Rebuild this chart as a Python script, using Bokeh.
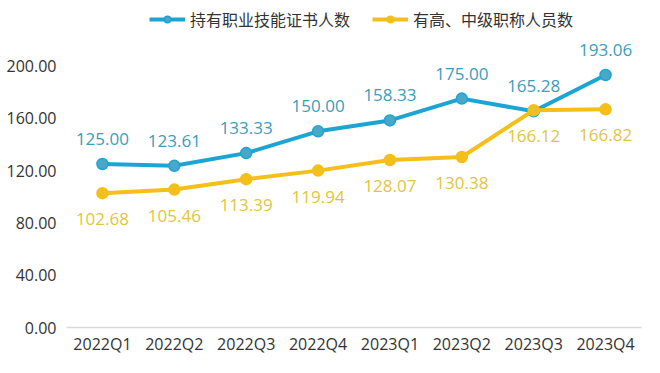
from bokeh.plotting import figure
from bokeh.models import FactorRange, Range1d, Legend, LegendItem, ColumnDataSource, NumeralTickFormatter
from bokeh.core.properties import value
from bokeh.embed import file_html
from bokeh.resources import INLINE

categories = ["2022Q1", "2022Q2", "2022Q3", "2022Q4", "2023Q1", "2023Q2", "2023Q3", "2023Q4"]
cert_holders = [125.00, 123.61, 133.33, 150.00, 158.33, 175.00, 165.28, 193.06]
titled_staff = [102.68, 105.46, 113.39, 119.94, 128.07, 130.38, 166.12, 166.82]
series_names = ["持有职业技能证书人数", "有高、中级职称人员数"]
y_ticks = [0, 40, 80, 120, 160, 200]

blue = "#1CA5D3"
blue_fill = "#4AA7C7"
blue_text = "#3A9DBB"
yellow = "#F4BF1A"
yellow_text = "#E2C443"

src = ColumnDataSource(dict(
    x=categories,
    a=cert_holders,
    b=titled_staff,
    at=["%.2f" % v for v in cert_holders],
    bt=["%.2f" % v for v in titled_staff],
))

p = figure(width=644, height=357, x_range=FactorRange(*categories), y_range=Range1d(0, 250),
           output_backend="svg", toolbar_location=None,
           min_border_left=66, min_border_right=3, min_border_top=0, min_border_bottom=29)
p.outline_line_color = None
p.xgrid.grid_line_color = None
p.ygrid.grid_line_color = None
p.background_fill_color = "white"
p.border_fill_color = "white"

num_font = "Open Sans"
p.yaxis.ticker = y_ticks
p.yaxis.formatter = NumeralTickFormatter(format="0.00")
p.yaxis.axis_line_color = None
p.yaxis.major_tick_line_color = None
p.yaxis.minor_tick_line_color = None
p.yaxis.major_tick_out = 0
p.yaxis.major_tick_in = 0
p.yaxis.major_label_text_font = num_font
p.yaxis.major_label_text_font_size = "16px"
p.yaxis.major_label_text_color = "#333333"
p.yaxis.major_label_standoff = 10

p.xaxis.axis_line_color = "#D9D9D9"
p.xaxis.axis_line_width = 1.5
p.xaxis.major_tick_line_color = None
p.xaxis.minor_tick_line_color = None
p.xaxis.major_tick_out = 0
p.xaxis.major_tick_in = 0
p.xaxis.major_label_text_font = num_font
p.xaxis.major_label_text_font_size = "16px"
p.xaxis.major_label_text_color = "#333333"
p.xaxis.major_label_standoff = 5

la = p.line("x", "a", source=src, line_color=blue, line_width=4)
sa = p.scatter("x", "a", source=src, size=11, fill_color=blue_fill, line_color=blue, line_width=1.5)
lb = p.line("x", "b", source=src, line_color=yellow, line_width=4)
sb = p.scatter("x", "b", source=src, size=11, fill_color=yellow, line_color=yellow, line_width=1.5)

p.text("x", "a", text="at", source=src, y_offset=-25, text_align="center", text_baseline="middle",
       text_font=value(num_font), text_font_size="17px", text_color=blue_text)
p.text("x", "b", text="bt", source=src, y_offset=26, text_align="center", text_baseline="middle",
       text_font=value(num_font), text_font_size="17px", text_color=yellow_text)

legend = Legend(items=[LegendItem(label=series_names[0], renderers=[la, sa]),
                       LegendItem(label=series_names[1], renderers=[lb, sb])],
                orientation="horizontal", location=(83, 296),
                label_text_font="Noto Sans CJK SC", label_text_font_size="16px",
                label_text_color="#333333", glyph_width=36, glyph_height=16,
                spacing=22, padding=4, margin=0, border_line_color=None,
                background_fill_alpha=0, label_standoff=5)
p.add_layout(legend)

open("out.html", "w").write(file_html(p, INLINE))
